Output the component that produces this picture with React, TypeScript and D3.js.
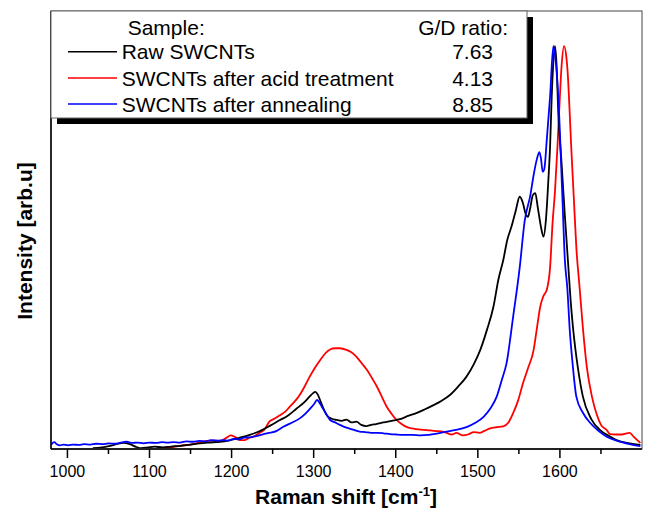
import React from "react";
import * as d3 from "d3";

// Raman spectra, intensity normalised to the G peak (arb. units)
const rawSWCNTs: [number, number][] = [
  [1031, 0.002], [1042, 0.004], [1052, 0.008], [1060, 0.012], [1068, 0.015], [1076, 0.012],
  [1084, 0.005], [1090, 0.002], [1098, 0.004], [1106, 0.006], [1116, 0.004], [1126, 0.006],
  [1138, 0.008], [1150, 0.011], [1161, 0.014], [1172, 0.016], [1186, 0.018], [1196, 0.021],
  [1210, 0.028], [1222, 0.035], [1235, 0.045], [1247, 0.058], [1259, 0.072], [1268, 0.082],
  [1279, 0.1], [1288, 0.115], [1295, 0.13], [1299, 0.138], [1302, 0.142], [1305, 0.135],
  [1309, 0.115], [1313, 0.095], [1316, 0.084], [1322, 0.075], [1328, 0.072], [1334, 0.07],
  [1340, 0.073], [1346, 0.066], [1352, 0.068], [1358, 0.06], [1364, 0.057], [1370, 0.06],
  [1376, 0.062], [1385, 0.066], [1395, 0.07], [1405, 0.074], [1415, 0.082], [1425, 0.089],
  [1435, 0.098], [1446, 0.109], [1456, 0.12], [1466, 0.134], [1476, 0.155], [1486, 0.179],
  [1495, 0.21], [1503, 0.246], [1511, 0.295], [1519, 0.353], [1525, 0.42], [1531, 0.469],
  [1536, 0.52], [1541, 0.552], [1546, 0.59], [1551, 0.626], [1555, 0.61], [1558, 0.585],
  [1561, 0.576], [1564, 0.6], [1567, 0.63], [1570, 0.635], [1573, 0.6], [1577, 0.55],
  [1580, 0.527], [1583, 0.57], [1586, 0.67], [1588, 0.75], [1590, 0.874], [1592, 0.96],
  [1594, 1.0], [1596, 0.95], [1598, 0.834], [1602, 0.71], [1606, 0.58], [1610, 0.46],
  [1613, 0.37], [1616, 0.3], [1622, 0.2], [1628, 0.13], [1638, 0.075], [1649, 0.047],
  [1660, 0.032], [1669, 0.022], [1685, 0.014], [1698, 0.01],
];

const acidSWCNTs: [number, number][] = [
  [1117, 0.002], [1128, 0.005], [1137, 0.008], [1150, 0.011], [1161, 0.016], [1170, 0.02],
  [1178, 0.021], [1186, 0.02], [1193, 0.027], [1199, 0.034], [1204, 0.03], [1210, 0.022],
  [1216, 0.022], [1222, 0.028], [1228, 0.032], [1234, 0.04], [1240, 0.048], [1246, 0.068],
  [1252, 0.075], [1259, 0.084], [1265, 0.092], [1271, 0.105], [1277, 0.118], [1283, 0.134],
  [1289, 0.155], [1295, 0.179], [1301, 0.2], [1308, 0.221], [1314, 0.237], [1320, 0.247],
  [1326, 0.25], [1332, 0.25], [1340, 0.246], [1346, 0.24], [1352, 0.229], [1358, 0.214],
  [1365, 0.196], [1371, 0.176], [1377, 0.155], [1383, 0.13], [1389, 0.105], [1395, 0.087],
  [1401, 0.072], [1407, 0.062], [1413, 0.055], [1420, 0.051], [1430, 0.048], [1438, 0.047],
  [1446, 0.045], [1455, 0.044], [1462, 0.04], [1468, 0.036], [1474, 0.04], [1481, 0.034],
  [1488, 0.036], [1495, 0.042], [1502, 0.04], [1508, 0.045], [1515, 0.051], [1522, 0.054],
  [1531, 0.056], [1537, 0.065], [1543, 0.089], [1549, 0.12], [1555, 0.163], [1561, 0.2],
  [1568, 0.246], [1572, 0.3], [1576, 0.353], [1580, 0.38], [1584, 0.395], [1588, 0.45],
  [1591, 0.56], [1594, 0.64], [1597, 0.75], [1599, 0.834], [1602, 0.95], [1605, 1.0],
  [1608, 0.97], [1610, 0.916], [1612, 0.83], [1614, 0.74], [1617, 0.62], [1620, 0.5],
  [1624, 0.4], [1628, 0.3], [1633, 0.2], [1639, 0.13], [1645, 0.085], [1650, 0.06],
  [1657, 0.047], [1661, 0.037], [1668, 0.036], [1675, 0.036], [1685, 0.04], [1690, 0.03],
  [1698, 0.015],
];

const annealedSWCNTs: [number, number][] = [
  [980, 0.01], [984, 0.017], [987, 0.012], [991, 0.009], [995, 0.011], [1001, 0.009],
  [1007, 0.011], [1014, 0.01], [1020, 0.012], [1028, 0.011], [1035, 0.013], [1043, 0.012],
  [1050, 0.014], [1058, 0.013], [1065, 0.016], [1072, 0.018], [1079, 0.015], [1085, 0.016],
  [1093, 0.014], [1100, 0.016], [1108, 0.015], [1115, 0.017], [1122, 0.016], [1129, 0.017],
  [1137, 0.016], [1145, 0.019], [1153, 0.018], [1161, 0.02], [1168, 0.019], [1175, 0.022],
  [1183, 0.021], [1190, 0.022], [1196, 0.021], [1202, 0.025], [1209, 0.024], [1215, 0.028],
  [1222, 0.029], [1230, 0.032], [1236, 0.035], [1243, 0.039], [1249, 0.041], [1255, 0.045],
  [1263, 0.055], [1272, 0.064], [1283, 0.076], [1290, 0.088], [1296, 0.101], [1301, 0.113],
  [1304, 0.122], [1307, 0.115], [1310, 0.105], [1315, 0.088], [1320, 0.072], [1326, 0.066],
  [1332, 0.06], [1340, 0.053], [1348, 0.048], [1356, 0.043], [1363, 0.042], [1370, 0.04],
  [1378, 0.04], [1385, 0.039], [1393, 0.037], [1400, 0.036], [1410, 0.035], [1421, 0.035],
  [1430, 0.034], [1440, 0.035], [1450, 0.038], [1462, 0.043], [1475, 0.048], [1487, 0.055],
  [1497, 0.065], [1507, 0.08], [1515, 0.1], [1523, 0.13], [1529, 0.17], [1535, 0.213],
  [1543, 0.328], [1551, 0.45], [1557, 0.565], [1564, 0.63], [1568, 0.68], [1572, 0.72],
  [1575, 0.737], [1577, 0.72], [1579, 0.688], [1581, 0.695], [1584, 0.767], [1588, 0.874],
  [1592, 1.0], [1595, 0.96], [1598, 0.874], [1603, 0.626], [1606, 0.47], [1609, 0.4],
  [1612, 0.295], [1616, 0.2], [1620, 0.13], [1628, 0.09], [1637, 0.0645], [1647, 0.045],
  [1657, 0.0305], [1670, 0.02], [1685, 0.012], [1698, 0.007],
];

const seriesNames = ["Raw SWCNTs", "SWCNTs after acid treatment", "SWCNTs after annealing"];
const seriesColors = ["#000000", "#ff0000", "#0000ff"];
const gdRatios = ["7.63", "4.13", "8.85"];
const majorTicks = [1000, 1100, 1200, 1300, 1400, 1500, 1600];
const minorTicks = [1050, 1150, 1250, 1350, 1450, 1550, 1650];
const xDomain: [number, number] = [980, 1700];
const yDomain: [number, number] = [0, 1.087];

export default function App() {
  const W = 645;
  const H = 509;
  const left = 51, right = 642, top = 11, bottom = 449;
  const x = d3.scaleLinear().domain(xDomain).range([left, right]);
  const y = d3.scaleLinear().domain(yDomain).range([bottom, top]);
  const line = d3
    .line<[number, number]>()
    .x((d) => x(d[0]))
    .y((d) => y(d[1]))
    .curve(d3.curveMonotoneX);
  const allSeries = [rawSWCNTs, acidSWCNTs, annealedSWCNTs];
  const drawOrder = [1, 0, 2];
  const font = "Arial, 'Liberation Sans', sans-serif";

  const legX = 51, legY = 11, legW = 476, legH = 107;
  const rowY = [51.7, 78, 104];

  return (
    <svg
      width={W}
      height={H}
      style={{ position: "absolute", left: 0, top: 0, background: "#fff" }}
      fontFamily={font}
    >
      <defs>
        <clipPath id="plotClip">
          <rect x={left} y={top} width={right - left} height={bottom - top} />
        </clipPath>
      </defs>
      <rect x={0} y={0} width={W} height={H} fill="#fff" />
      {/* frame */}
      <rect x={left} y={top} width={right - left} height={bottom - top} fill="none" stroke="#444" strokeWidth={1} />

      <g clipPath="url(#plotClip)">
        {drawOrder.map((i) => (
          <path
            key={i}
            d={line(allSeries[i]) || ""}
            fill="none"
            stroke={seriesColors[i]}
            strokeWidth={1.8}
            strokeLinejoin="round"
          />
        ))}
      </g>

      {/* axes */}
      <line x1={left} x2={right} y1={bottom} y2={bottom} stroke="#222" strokeWidth={2} />
      <line x1={left} x2={left} y1={top} y2={bottom} stroke="#000" strokeWidth={1.5} />
      {majorTicks.map((t) => (
        <g key={t}>
          <line x1={x(t)} x2={x(t)} y1={bottom} y2={bottom + 9} stroke="#000" strokeWidth={1.5} />
          <text x={x(t)} y={477} textAnchor="middle" fontSize={16} fill="#000">
            {t}
          </text>
        </g>
      ))}
      {minorTicks.map((t) => (
        <line key={t} x1={x(t)} x2={x(t)} y1={bottom} y2={bottom + 5} stroke="#000" strokeWidth={1.5} />
      ))}

      {/* axis titles */}
      <text x={346} y={504} textAnchor="middle" fontSize={21} fontWeight="bold" fill="#000">
        Raman shift [cm
        <tspan fontSize={13} dy={-8}>-1</tspan>
        <tspan dy={8}>]</tspan>
      </text>
      <text
        transform={`translate(32, 241) rotate(-90)`}
        textAnchor="middle"
        fontSize={21}
        fontWeight="bold"
        fill="#000"
      >
        Intensity [arb.u]
      </text>

      {/* legend */}
      <rect x={legX + 6} y={legY + 6} width={legW} height={legH} fill="#000" />
      <rect x={legX} y={legY} width={legW} height={legH} fill="#fff" stroke="#666" strokeWidth={1} />
      <text x={127.7} y={34.5} fontSize={21} fill="#000">Sample:</text>
      <text x={508} y={34.5} fontSize={21} textAnchor="end" fill="#000">G/D ratio:</text>
      {seriesNames.map((n, i) => (
        <g key={n}>
          <line x1={68} x2={117} y1={rowY[i]} y2={rowY[i]} stroke={seriesColors[i]} strokeWidth={1.5} />
          <text x={121.7} y={rowY[i] + 7.5} fontSize={21} fill="#000">{n}</text>
          <text x={493} y={rowY[i] + 7.5} fontSize={21} textAnchor="end" fill="#000">{gdRatios[i]}</text>
        </g>
      ))}
    </svg>
  );
}
